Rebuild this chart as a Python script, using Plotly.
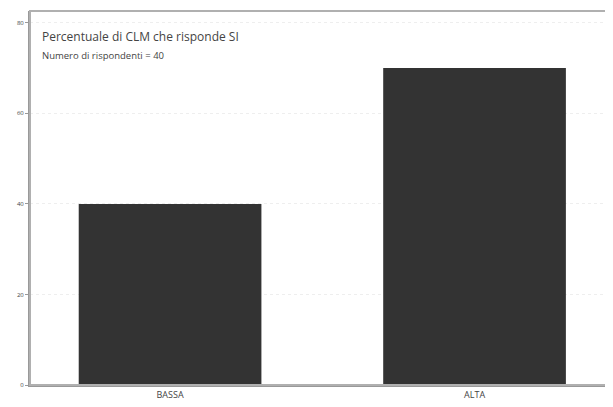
import plotly.graph_objects as go

categories = ["BASSA", "ALTA"]
values = [40, 70]
tick_vals = [0, 20, 40, 60, 80]
tick_text = ["0", "20", "40", "60", "80"]
title_line1 = "Percentuale di CLM che risponde SI"
title_line2 = "Numero di rispondenti = 40"

fig = go.Figure()
fig.add_trace(go.Bar(
    x=[0, 1], y=values, width=0.6,
    marker=dict(color="#333333", line=dict(width=0)),
))

fig.update_layout(
    width=605, height=399,
    margin=dict(l=22, r=6, t=3, b=22),
    paper_bgcolor="white", plot_bgcolor="white",
    showlegend=False,
    font=dict(family="Open Sans", color="#444444"),
    shapes=[dict(type="rect", xref="paper", yref="paper", x0=0, x1=1, y0=0, y1=1,
                 line=dict(color="#b0b0b0", width=2), layer="above")],
    annotations=[
        dict(text=title_line1, xref="paper", yref="paper", x=0.017, y=0.933,
             xanchor="left", yanchor="middle", showarrow=False,
             font=dict(size=12, color="#444444")),
        dict(text=title_line2, xref="paper", yref="paper", x=0.017, y=0.880,
             xanchor="left", yanchor="middle", showarrow=False,
             font=dict(size=9.5, color="#444444")),
    ],
)
fig.update_xaxes(
    range=[-0.46, 1.435], tickvals=[0, 1], ticktext=categories,
    showgrid=False, zeroline=False, showline=True, linecolor="#999999", linewidth=2,
    tickfont=dict(size=9, color="#444444"), ticks="",
)
fig.update_yaxes(
    range=[0, 82.6], tickvals=tick_vals, ticktext=tick_text,
    showgrid=True, gridcolor="#eeeeee", gridwidth=1, griddash="dot",
    zeroline=False, showline=True, linecolor="#999999", linewidth=2,
    ticks="outside", ticklen=3, tickcolor="#999999",
    tickfont=dict(size=6, color="#444444"),
)

fig.write_html("out.html")
